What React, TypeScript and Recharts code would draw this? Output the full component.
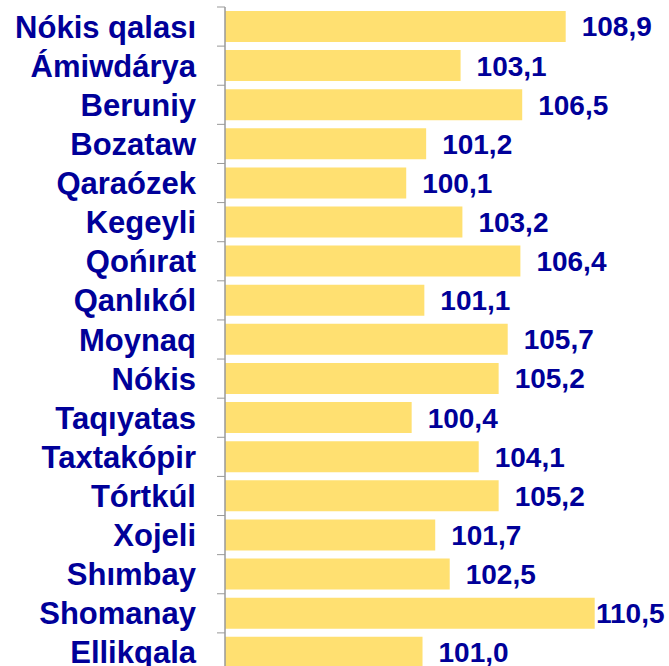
import React from 'react';
import { BarChart, Bar, XAxis, YAxis, LabelList } from 'recharts';

const districts = [
  'Nókis qalası',
  'Ámiwdárya',
  'Beruniy',
  'Bozataw',
  'Qaraózek',
  'Kegeyli',
  'Qońırat',
  'Qanlıkól',
  'Moynaq',
  'Nókis',
  'Taqıyatas',
  'Taxtakópir',
  'Tórtkúl',
  'Xojeli',
  'Shımbay',
  'Shomanay',
  'Ellikqala',
];

const indexValues = [
  108.9, 103.1, 106.5, 101.2, 100.1, 103.2, 106.4, 101.1, 105.7, 105.2, 100.4,
  104.1, 105.2, 101.7, 102.5, 110.5, 101.0,
];

const data = districts.map((name, i) => ({ name, value: indexValues[i] }));

const WIDTH = 669;
const HEIGHT = 680;
const MARGIN = { top: 7, right: 0, bottom: 8, left: 0 };
const FONT = '"Liberation Sans", Arial, sans-serif';
const TEXT_COLOR = '#000099';

const band = (HEIGHT - MARGIN.top - MARGIN.bottom) / districts.length;

// category label plus a small tick on the band boundary above it
function CategoryTick(props: any) {
  const { x, y, payload, index } = props;
  const top = y - band / 2;
  return (
    <g>
      <line x1={x + 21} x2={x + 29} y1={top} y2={top} stroke="#999" strokeWidth={1} />
      {index === districts.length - 1 && (
        <line x1={x + 21} x2={x + 29} y1={top + band} y2={top + band} stroke="#999" />
      )}
      <text
        x={x}
        y={y + 11}
        textAnchor="end"
        fontFamily={FONT}
        fontWeight="bold"
        fontSize={31}
        fill={TEXT_COLOR}
      >
        {payload.value}
      </text>
    </g>
  );
}

function ValueLabel(props: any) {
  const { x, y, width, height, value } = props;
  const end = x + width;
  const lx = Math.min(end + 16, WIDTH - 73);
  return (
    <text
      x={lx}
      y={y + height / 2 + 10}
      textAnchor="start"
      fontFamily={FONT}
      fontWeight="bold"
      fontSize={28}
      fill={TEXT_COLOR}
    >
      {Number(value).toFixed(1).replace('.', ',')}
    </text>
  );
}

export default function App() {
  return (
    <div style={{ position: 'absolute', left: 0, top: 0, background: '#fff' }}>
      <BarChart
        width={WIDTH}
        height={HEIGHT}
        data={data}
        layout="vertical"
        margin={MARGIN}
        barCategoryGap="10%"
      >
        <XAxis type="number" hide domain={[90.1, 114.6]} />
        <YAxis
          type="category"
          dataKey="name"
          width={225}
          interval={0}
          tickLine={false}
          tickSize={0}
          tickMargin={29}
          axisLine={{ stroke: '#999', strokeWidth: 1.5 }}
          tick={<CategoryTick />}
        />
        <Bar dataKey="value" fill="#FFE071" isAnimationActive={false}>
          <LabelList dataKey="value" content={<ValueLabel />} />
        </Bar>
      </BarChart>
    </div>
  );
}
